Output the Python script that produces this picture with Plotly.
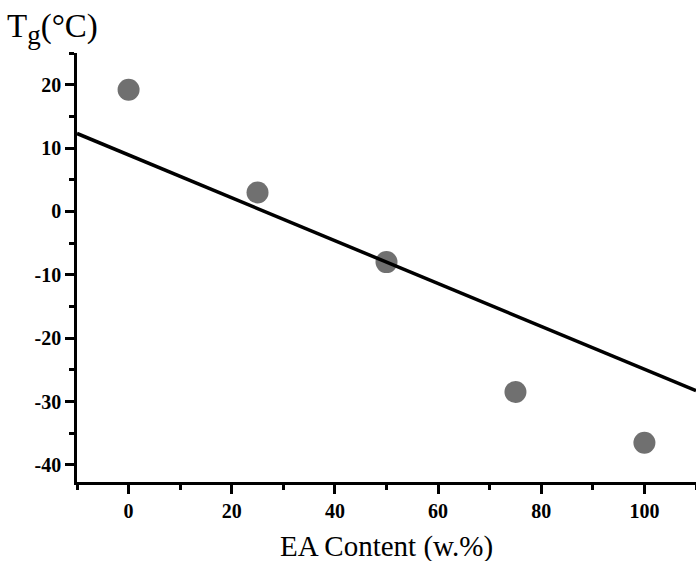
import plotly.graph_objects as go

# Data
ea_content = [0, 25, 50, 75, 100]
tg_values = [19.2, 3.0, -8.0, -28.5, -36.5]

# Fitted line (as drawn in the reference)
line_x = [-10, 110]
line_y = [12.3, -28.3]

x_ticks = [0, 20, 40, 60, 80, 100]
y_ticks = [-40, -30, -20, -10, 0, 10, 20]

W, H = 696, 561
ml, mr, mt, mb = 77, 0, 53, 79
pw = W - ml - mr
ph = H - mt - mb

fig = go.Figure()
fig.add_trace(go.Scatter(
    x=ea_content, y=tg_values, mode="markers",
    marker=dict(size=22, color="#707070", line=dict(width=0)),
    showlegend=False,
))
fig.add_trace(go.Scatter(
    x=line_x, y=line_y, mode="lines",
    line=dict(color="black", width=3.5),
    showlegend=False,
))

tick_font = dict(family="Liberation Serif", size=20, color="black", weight="bold")

fig.update_layout(
    width=W, height=H,
    margin=dict(l=ml, r=mr, t=mt, b=mb),
    paper_bgcolor="white", plot_bgcolor="white",
    xaxis=dict(
        range=[-10, 110], tickvals=x_ticks, ticktext=[str(v) for v in x_ticks],
        showgrid=False, zeroline=False, showline=True, linecolor="black", linewidth=2.5,
        ticks="outside", ticklen=9, tickwidth=2.5, tickcolor="black",
        minor=dict(ticks="outside", ticklen=5, tickwidth=2.5, tickcolor="black", dtick=10, tick0=0),
        tickfont=tick_font,
    ),
    yaxis=dict(
        range=[-42.7, 25], tickvals=y_ticks, ticktext=[str(v) for v in y_ticks],
        showgrid=False, zeroline=False, showline=True, linecolor="black", linewidth=2.5,
        ticks="outside", ticklen=9, tickwidth=2.5, tickcolor="black",
        minor=dict(ticks="outside", ticklen=5, tickwidth=2.5, tickcolor="black", dtick=5, tick0=0),
        tickfont=tick_font,
    ),
    annotations=[
        dict(text="T<sub><span style='font-size:27px'>g</span></sub>(°C)", xref="paper", yref="paper",
             x=(5 - ml) / pw, y=(H - mb - 6) / ph, xanchor="left", yanchor="top",
             showarrow=False, font=dict(family="Liberation Serif", size=33, color="black")),
        dict(text="EA Content (w.%)", xref="paper", yref="paper",
             x=0.5, y=-(546 - (H - mb)) / ph, xanchor="center", yanchor="middle",
             showarrow=False, font=dict(family="Liberation Serif", size=29, color="black")),
    ],
)

fig.write_html("out.html", config={"displayModeBar": False})

# remove default page margin so the figure sits at the window's top-left
with open("out.html", "r", encoding="utf-8") as f:
    html = f.read()
html = html.replace("<head>", "<head><style>html,body{margin:0;padding:0;overflow:hidden;}</style>", 1)
with open("out.html", "w", encoding="utf-8") as f:
    f.write(html)
